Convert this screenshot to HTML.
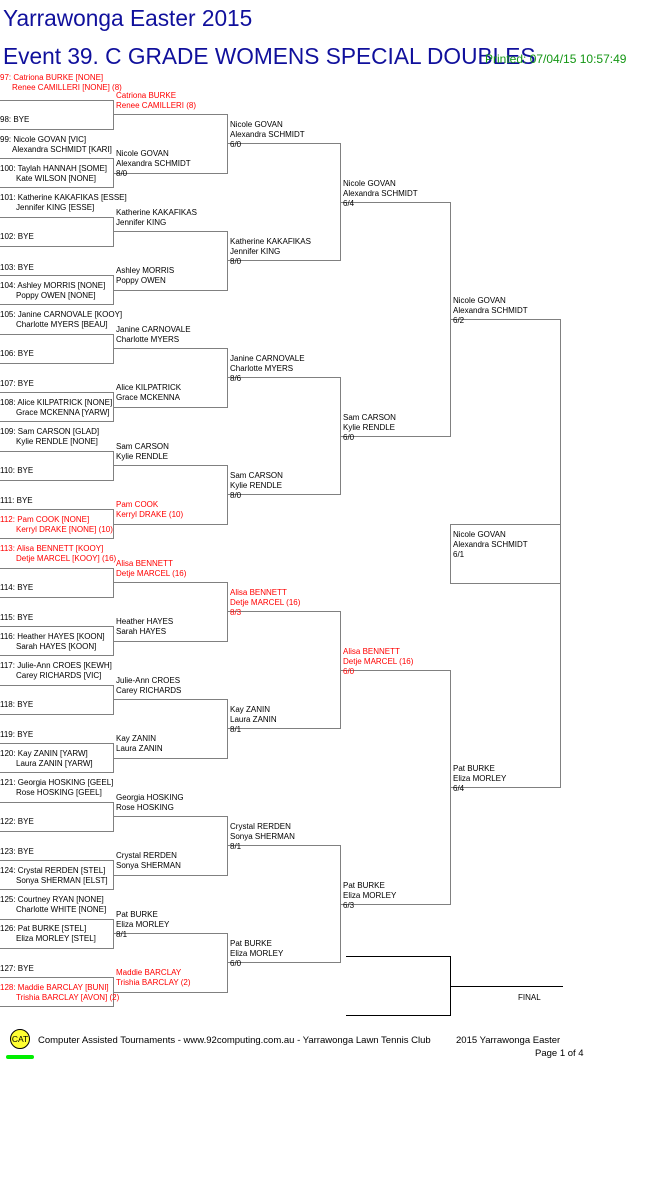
<!DOCTYPE html>
<html><head><meta charset="utf-8"><style>
html,body{margin:0;padding:0;background:#fff;}
svg{display:block;font-family:"Liberation Sans",Arial,sans-serif;}
.t{font-size:8px;fill:#000;}
.r{font-size:8px;fill:#f00;}
.l{fill:none;stroke:#808080;stroke-width:1;}
.k{fill:none;stroke:#000;stroke-width:1;}
</style></head><body>
<svg width="661" height="1196" viewBox="0 0 661 1196" xmlns="http://www.w3.org/2000/svg">
<text x="3" y="26" font-size="22.7" fill="#10109c">Yarrawonga Easter 2015</text>
<text x="3" y="64" font-size="22.7" fill="#10109c">Event 39. C GRADE WOMENS SPECIAL DOUBLES</text>
<text x="485" y="63" font-size="12" fill="#149614">Printed: 07/04/15 10:57:49</text>

<path class="l" d="M0 100.5H113.5V129.5H0M0 158.5H113.5V187.5H0M0 217.5H113.5V246.5H0M0 275.5H113.5V304.5H0M0 334.5H113.5V363.5H0M0 392.5H113.5V421.5H0M0 451.5H113.5V480.5H0M0 509.5H113.5V538.5H0M0 568.5H113.5V597.5H0M0 626.5H113.5V655.5H0M0 685.5H113.5V714.5H0M0 743.5H113.5V772.5H0M0 802.5H113.5V831.5H0M0 860.5H113.5V889.5H0M0 919.5H113.5V948.5H0M0 977.5H113.5V1006.5H0"/>
<path class="l" d="M113 114.5H227.5V173.5H113M113 231.5H227.5V290.5H113M113 348.5H227.5V407.5H113M113 465.5H227.5V524.5H113M113 582.5H227.5V641.5H113M113 699.5H227.5V758.5H113M113 816.5H227.5V875.5H113M113 933.5H227.5V992.5H113"/>
<path class="l" d="M227 143.5H340.5V260.5H227M227 377.5H340.5V494.5H227M227 611.5H340.5V728.5H227M227 845.5H340.5V962.5H227"/>
<path class="l" d="M340 202.5H450.5V436.5H340M340 670.5H450.5V904.5H340"/>
<path class="l" d="M450 319.5H560.5V787.5H450"/>
<rect class="l" x="450.5" y="524.5" width="110" height="59"/>
<path class="k" d="M346 956.5H450.5V1015.5H346M450 986.5H563"/>
<text x="518" y="1000" class="t">FINAL</text>

<text class="r" x="0" y="80">97: Catriona BURKE [NONE]</text><text class="r" x="12" y="90">Renee CAMILLERI [NONE] (8)</text>
<text class="t" x="0" y="122">98: BYE</text>
<text class="t" x="0" y="142">99: Nicole GOVAN [VIC]</text><text class="t" x="12" y="152">Alexandra SCHMIDT [KARI]</text>
<text class="t" x="0" y="171">100: Taylah HANNAH [SOME]</text><text class="t" x="16" y="181">Kate WILSON [NONE]</text>
<text class="t" x="0" y="200">101: Katherine KAKAFIKAS [ESSE]</text><text class="t" x="16" y="210">Jennifer KING [ESSE]</text>
<text class="t" x="0" y="239">102: BYE</text>
<text class="t" x="0" y="270">103: BYE</text>
<text class="t" x="0" y="288">104: Ashley MORRIS [NONE]</text><text class="t" x="16" y="298">Poppy OWEN [NONE]</text>
<text class="t" x="0" y="317">105: Janine CARNOVALE [KOOY]</text><text class="t" x="16" y="327">Charlotte MYERS [BEAU]</text>
<text class="t" x="0" y="356">106: BYE</text>
<text class="t" x="0" y="386">107: BYE</text>
<text class="t" x="0" y="405">108: Alice KILPATRICK [NONE]</text><text class="t" x="16" y="415">Grace MCKENNA [YARW]</text>
<text class="t" x="0" y="434">109: Sam CARSON [GLAD]</text><text class="t" x="16" y="444">Kylie RENDLE [NONE]</text>
<text class="t" x="0" y="473">110: BYE</text>
<text class="t" x="0" y="503">111: BYE</text>
<text class="r" x="0" y="522">112: Pam COOK [NONE]</text><text class="r" x="16" y="532">Kerryl DRAKE [NONE] (10)</text>
<text class="r" x="0" y="551">113: Alisa BENNETT [KOOY]</text><text class="r" x="16" y="561">Detje MARCEL [KOOY] (16)</text>
<text class="t" x="0" y="590">114: BYE</text>
<text class="t" x="0" y="620">115: BYE</text>
<text class="t" x="0" y="639">116: Heather HAYES [KOON]</text><text class="t" x="16" y="649">Sarah HAYES [KOON]</text>
<text class="t" x="0" y="668">117: Julie-Ann CROES [KEWH]</text><text class="t" x="16" y="678">Carey RICHARDS [VIC]</text>
<text class="t" x="0" y="707">118: BYE</text>
<text class="t" x="0" y="737">119: BYE</text>
<text class="t" x="0" y="756">120: Kay ZANIN [YARW]</text><text class="t" x="16" y="766">Laura ZANIN [YARW]</text>
<text class="t" x="0" y="785">121: Georgia HOSKING [GEEL]</text><text class="t" x="16" y="795">Rose HOSKING [GEEL]</text>
<text class="t" x="0" y="824">122: BYE</text>
<text class="t" x="0" y="854">123: BYE</text>
<text class="t" x="0" y="873">124: Crystal RERDEN [STEL]</text><text class="t" x="16" y="883">Sonya SHERMAN [ELST]</text>
<text class="t" x="0" y="902">125: Courtney RYAN [NONE]</text><text class="t" x="16" y="912">Charlotte WHITE [NONE]</text>
<text class="t" x="0" y="931">126: Pat BURKE [STEL]</text><text class="t" x="16" y="941">Eliza MORLEY [STEL]</text>
<text class="t" x="0" y="971">127: BYE</text>
<text class="r" x="0" y="990">128: Maddie BARCLAY [BUNI]</text><text class="r" x="16" y="1000">Trishia BARCLAY [AVON] (2)</text>

<text class="r" x="116" y="98">Catriona BURKE</text><text class="r" x="116" y="108">Renee CAMILLERI (8)</text>
<text class="t" x="116" y="156">Nicole GOVAN</text><text class="t" x="116" y="166">Alexandra SCHMIDT</text><text class="t" x="116" y="176">8/0</text>
<text class="t" x="116" y="215">Katherine KAKAFIKAS</text><text class="t" x="116" y="225">Jennifer KING</text>
<text class="t" x="116" y="273">Ashley MORRIS</text><text class="t" x="116" y="283">Poppy OWEN</text>
<text class="t" x="116" y="332">Janine CARNOVALE</text><text class="t" x="116" y="342">Charlotte MYERS</text>
<text class="t" x="116" y="390">Alice KILPATRICK</text><text class="t" x="116" y="400">Grace MCKENNA</text>
<text class="t" x="116" y="449">Sam CARSON</text><text class="t" x="116" y="459">Kylie RENDLE</text>
<text class="r" x="116" y="507">Pam COOK</text><text class="r" x="116" y="517">Kerryl DRAKE (10)</text>
<text class="r" x="116" y="566">Alisa BENNETT</text><text class="r" x="116" y="576">Detje MARCEL (16)</text>
<text class="t" x="116" y="624">Heather HAYES</text><text class="t" x="116" y="634">Sarah HAYES</text>
<text class="t" x="116" y="683">Julie-Ann CROES</text><text class="t" x="116" y="693">Carey RICHARDS</text>
<text class="t" x="116" y="741">Kay ZANIN</text><text class="t" x="116" y="751">Laura ZANIN</text>
<text class="t" x="116" y="800">Georgia HOSKING</text><text class="t" x="116" y="810">Rose HOSKING</text>
<text class="t" x="116" y="858">Crystal RERDEN</text><text class="t" x="116" y="868">Sonya SHERMAN</text>
<text class="t" x="116" y="917">Pat BURKE</text><text class="t" x="116" y="927">Eliza MORLEY</text><text class="t" x="116" y="937">8/1</text>
<text class="r" x="116" y="975">Maddie BARCLAY</text><text class="r" x="116" y="985">Trishia BARCLAY (2)</text>

<text class="t" x="230" y="127">Nicole GOVAN</text><text class="t" x="230" y="137">Alexandra SCHMIDT</text><text class="t" x="230" y="147">6/0</text>
<text class="t" x="230" y="244">Katherine KAKAFIKAS</text><text class="t" x="230" y="254">Jennifer KING</text><text class="t" x="230" y="264">8/0</text>
<text class="t" x="230" y="361">Janine CARNOVALE</text><text class="t" x="230" y="371">Charlotte MYERS</text><text class="t" x="230" y="381">8/6</text>
<text class="t" x="230" y="478">Sam CARSON</text><text class="t" x="230" y="488">Kylie RENDLE</text><text class="t" x="230" y="498">8/0</text>
<text class="r" x="230" y="595">Alisa BENNETT</text><text class="r" x="230" y="605">Detje MARCEL (16)</text><text class="r" x="230" y="615">8/3</text>
<text class="t" x="230" y="712">Kay ZANIN</text><text class="t" x="230" y="722">Laura ZANIN</text><text class="t" x="230" y="732">8/1</text>
<text class="t" x="230" y="829">Crystal RERDEN</text><text class="t" x="230" y="839">Sonya SHERMAN</text><text class="t" x="230" y="849">8/1</text>
<text class="t" x="230" y="946">Pat BURKE</text><text class="t" x="230" y="956">Eliza MORLEY</text><text class="t" x="230" y="966">6/0</text>

<text class="t" x="343" y="186">Nicole GOVAN</text><text class="t" x="343" y="196">Alexandra SCHMIDT</text><text class="t" x="343" y="206">6/4</text>
<text class="t" x="343" y="420">Sam CARSON</text><text class="t" x="343" y="430">Kylie RENDLE</text><text class="t" x="343" y="440">6/0</text>
<text class="r" x="343" y="654">Alisa BENNETT</text><text class="r" x="343" y="664">Detje MARCEL (16)</text><text class="r" x="343" y="674">6/0</text>
<text class="t" x="343" y="888">Pat BURKE</text><text class="t" x="343" y="898">Eliza MORLEY</text><text class="t" x="343" y="908">6/3</text>

<text class="t" x="453" y="303">Nicole GOVAN</text><text class="t" x="453" y="313">Alexandra SCHMIDT</text><text class="t" x="453" y="323">6/2</text>
<text class="t" x="453" y="771">Pat BURKE</text><text class="t" x="453" y="781">Eliza MORLEY</text><text class="t" x="453" y="791">6/4</text>
<text class="t" x="453" y="537">Nicole GOVAN</text><text class="t" x="453" y="547">Alexandra SCHMIDT</text><text class="t" x="453" y="557">6/1</text>

<circle cx="20" cy="1039" r="9.5" fill="#ffff33" stroke="#000" stroke-width="1"/>
<text x="20" y="1042" font-size="8.5" text-anchor="middle" fill="#000">CAT</text>
<rect x="6" y="1055" width="28" height="4" rx="2" fill="#00ee00"/>
<text x="38" y="1043" font-size="9.5" fill="#000">Computer Assisted Tournaments - www.92computing.com.au -  Yarrawonga Lawn Tennis Club</text>
<text x="456" y="1043" font-size="9.5" fill="#000">2015 Yarrawonga Easter</text>
<text x="535" y="1056" font-size="9.5" fill="#000">Page 1 of 4</text>
</svg>
</body></html>
